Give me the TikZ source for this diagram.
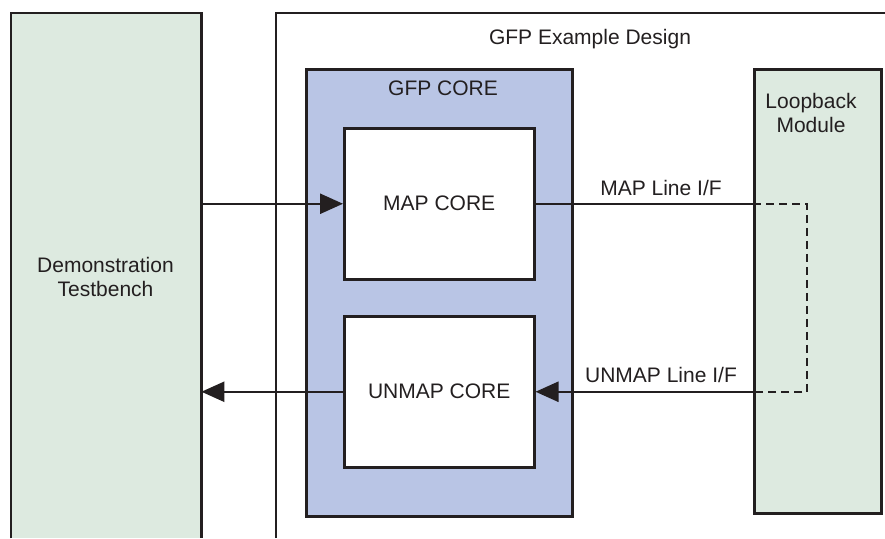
\documentclass[tikz,border=0pt]{standalone}
\usepackage{fontspec}
\setmainfont{Liberation Sans}
\usetikzlibrary{arrows.meta}
\definecolor{edge}{HTML}{231F20}
\definecolor{mint}{HTML}{DDEAE0}
\definecolor{corefill}{HTML}{B9C5E5}
\tikzset{
  wire/.style={draw=edge, line width=2.5pt},
  arr/.style={wire, -{Triangle[length=23pt, width=20pt]}},
  block/.style={draw=edge, line width=2.5pt, inner sep=0pt, font=\fontsize{21}{24}\selectfont, align=center},
  lbl/.style={inner sep=0pt, font=\fontsize{21}{24}\selectfont, align=center, text=edge},
}
\begin{document}
\begin{tikzpicture}[x=1pt, y=-1pt]
\useasboundingbox (0,0) rectangle (885,538);
\fill[white] (0,0) rectangle (885,538);

% testbench column, open at the bottom
\node[inner sep=0pt, fill=mint, minimum width=190pt, minimum height=525pt, anchor=north west] (tb) at (11,13) {};
\draw[wire] (tb.south west) -- (tb.north west) -- (tb.north east) -- (tb.south east);
\node[lbl] (tbtext) at (105.5,277) {Demonstration\\Testbench};

% example design frame, open at the bottom and right
\coordinate (dsgTL) at (276,13);
\coordinate (dsgBL) at (276,538);
\coordinate (dsgTR) at (886,13);
\draw[wire] (dsgBL) -- (dsgTL) -- (dsgTR);
\node[lbl] (dsgtext) at (590,39) {GFP Example Design};

% GFP core
\node[block, fill=corefill, minimum width=266pt, minimum height=447pt, anchor=north west] (core) at (305,68) {};
\node[lbl] (coretext) at (443,88) {GFP CORE};

\node[block, fill=white, text=edge, minimum width=190pt, minimum height=151pt, anchor=north west] (map) at (343,127) {MAP CORE};
\node[block, fill=white, text=edge, minimum width=190pt, minimum height=151pt, anchor=north west] (unmap) at (343,315) {UNMAP CORE};

% loopback module
\node[block, fill=mint, minimum width=127pt, minimum height=444pt, anchor=north west] (lb) at (753,68) {};
\node[lbl] (lbtext) at (811,113) {Loopback\\Module};

% connections
\draw[arr] (map.west -| tb.east) -- (map.west);
\draw[arr] (unmap.west) -- (unmap.west -| tb.east);

\coordinate (lbin) at (map.east -| lb.west);
\coordinate (lbout) at (unmap.east -| lb.west);
\coordinate (loopA) at (807,0 |- map.east);
\coordinate (loopB) at (807,0 |- unmap.east);
\draw[wire] (map.east) -- (lbin);
\draw[wire, dash pattern=on 8pt off 5pt] (lbin) -- (loopA) -- (loopB) -- (lbout);
\draw[arr] (lbout) -- (unmap.east);

\node[lbl] (maplbl) at (661,188) {MAP Line I/F};
\node[lbl] (unmaplbl) at (661,375) {UNMAP Line I/F};
\end{tikzpicture}
\end{document}
